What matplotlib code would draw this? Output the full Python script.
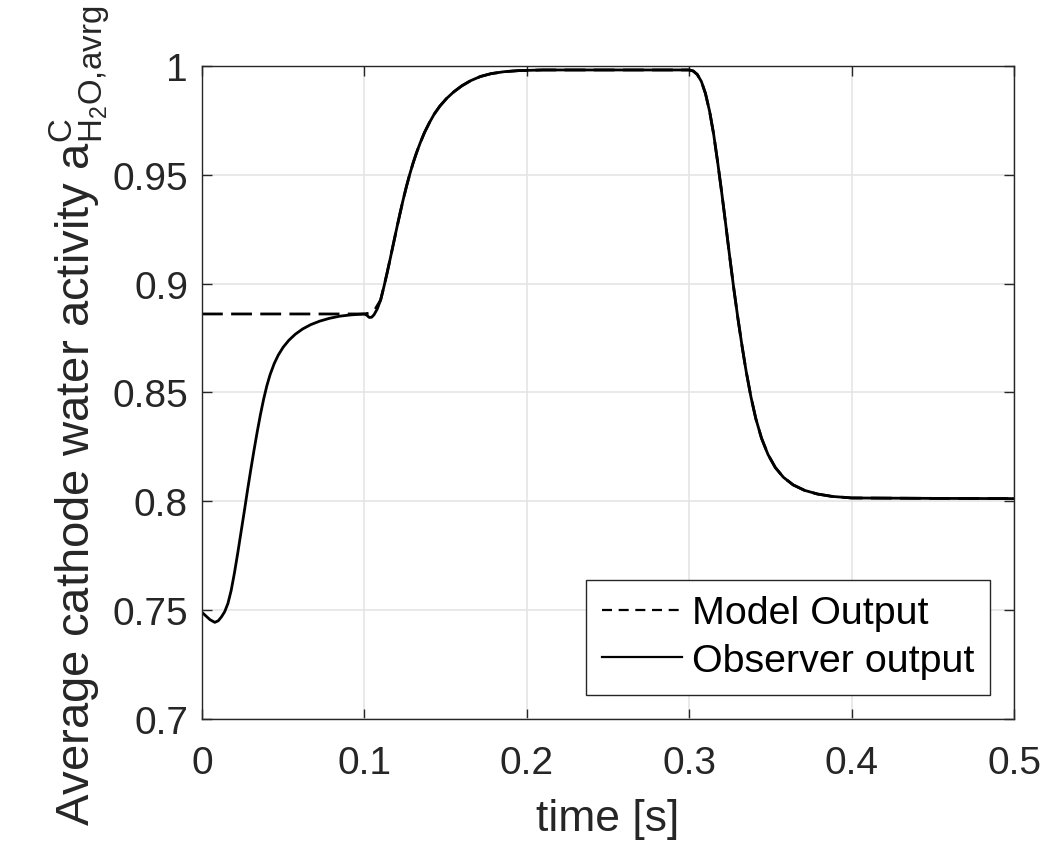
import matplotlib
matplotlib.use("Agg")
import matplotlib.pyplot as plt
from matplotlib.lines import Line2D

# observer output
obs_t = [0.0000, 0.0025, 0.0050, 0.0079, 0.0100, 0.0120, 0.0140, 0.0160, 0.0180, 0.0200,
         0.0220, 0.0240, 0.0260, 0.0280, 0.0300, 0.0320, 0.0340, 0.0360, 0.0380, 0.0400,
         0.0420, 0.0445, 0.0470, 0.0500, 0.0535, 0.0575, 0.0620, 0.0670, 0.0725, 0.0785,
         0.0850, 0.0920, 0.1000, 0.1015, 0.1030, 0.1045, 0.1060, 0.1080, 0.1100, 0.1120,
         0.1140, 0.1160, 0.1180, 0.1200, 0.1220, 0.1240, 0.1260, 0.1280, 0.1300, 0.1320,
         0.1345, 0.1370, 0.1400, 0.1430, 0.1465, 0.1505, 0.1550, 0.1600, 0.1655, 0.1715,
         0.1780, 0.1860, 0.1950, 0.2100, 0.2500, 0.3000, 0.3025, 0.3050, 0.3075, 0.3100,
         0.3125, 0.3150, 0.3175, 0.3200, 0.3225, 0.3250, 0.3275, 0.3300, 0.3325, 0.3350,
         0.3380, 0.3410, 0.3445, 0.3485, 0.3530, 0.3580, 0.3640, 0.3710, 0.3790, 0.3880,
         0.4000, 0.4500, 0.5000]
obs_a = [0.7489, 0.7472, 0.7455, 0.7443, 0.7450, 0.7468, 0.7492, 0.7530, 0.7590, 0.7670,
         0.7760, 0.7855, 0.7950, 0.8048, 0.8142, 0.8232, 0.8318, 0.8398, 0.8470, 0.8532,
         0.8583, 0.8633, 0.8672, 0.8708, 0.8740, 0.8768, 0.8792, 0.8812, 0.8828, 0.8841,
         0.8851, 0.8857, 0.8861, 0.8855, 0.8845, 0.8846, 0.8858, 0.8885, 0.8925, 0.8985,
         0.9050, 0.9118, 0.9188, 0.9258, 0.9325, 0.9390, 0.9450, 0.9505, 0.9555, 0.9600,
         0.9650, 0.9695, 0.9740, 0.9780, 0.9817, 0.9851, 0.9882, 0.9910, 0.9934, 0.9953,
         0.9966, 0.9975, 0.9980, 0.9983, 0.9983, 0.9983, 0.9978, 0.9962, 0.9930, 0.9875,
         0.9795, 0.9690, 0.9560, 0.9420, 0.9272, 0.9120, 0.8975, 0.8840, 0.8715, 0.8600,
         0.8480, 0.8380, 0.8290, 0.8215, 0.8155, 0.8110, 0.8075, 0.8050, 0.8033, 0.8022,
         0.8015, 0.8013, 0.8012]

# model output: flat before the first step, then same as observer
model_head_t = [0.0, 0.1, 0.103, 0.106]
model_head_a = [0.8861, 0.8861, 0.8865, 0.8875]

xticks = [0, 0.1, 0.2, 0.3, 0.4, 0.5]
xticklabels = ["0", "0.1", "0.2", "0.3", "0.4", "0.5"]
yticks = [0.7, 0.75, 0.8, 0.85, 0.9, 0.95, 1.0]
yticklabels = ["0.7", "0.75", "0.8", "0.85", "0.9", "0.95", "1"]

model_t = model_head_t + [t for t in obs_t if t > 0.108]
model_a = model_head_a + [a for t, a in zip(obs_t, obs_a) if t > 0.108]

plt.rcParams["font.family"] = ["Liberation Sans", "DejaVu Sans"]
plt.rcParams["mathtext.fontset"] = "custom"
plt.rcParams["mathtext.rm"] = "Liberation Sans"
plt.rcParams["mathtext.it"] = "Liberation Sans"

fig = plt.figure(figsize=(10.48, 8.45), dpi=100)
ax = fig.add_axes([0.1927, 0.1483, 0.7749, 0.7721])

ax.plot(model_t, model_a, color="black", linewidth=2.0, linestyle=(0, (7.5, 3)))
ax.plot(obs_t, obs_a, color="black", linewidth=2.0)

ax.set_xlim(0, 0.5)
ax.set_ylim(0.7, 1.0)
ax.set_xticks(xticks)
ax.set_xticklabels(xticklabels)
ax.set_yticks(yticks)
ax.set_yticklabels(yticklabels)

ax.grid(True, color="#e3e3e3", linewidth=1.1)
ax.set_axisbelow(True)
ax.tick_params(direction="in", length=7, width=1.0, colors="#262626",
               labelsize=28, top=True, right=True)
ax.tick_params(axis="x", pad=19)
ax.tick_params(axis="y", pad=10)
for spine in ax.spines.values():
    spine.set_edgecolor("#262626")
    spine.set_linewidth(1.0)

ax.set_xlabel("time [s]", fontsize=32, color="#262626", labelpad=12)
ax.set_ylabel(r"Average cathode water activity $\mathregular{a^{C}_{H_2O{,}avrg}}$",
              fontsize=34, color="#262626", labelpad=0.5)
ax.yaxis.label.set_y(0.465)

# legend handles drawn with the shorter dash used in the legend box
handles = [Line2D([], [], color="black", linewidth=1.6, linestyle=(0, (4.5, 3))),
           Line2D([], [], color="black", linewidth=1.6)]
leg = ax.legend(handles, ["Model Output", "Observer output"], loc="lower right",
                fontsize=28.4, frameon=True, fancybox=False,
                handlelength=2.05, handletextpad=0.25, borderpad=0.4,
                labelspacing=0.3, borderaxespad=0.6, framealpha=1)
leg.get_frame().set_edgecolor("#262626")
leg.get_frame().set_linewidth(1.0)

plt.savefig("out.png", dpi=100)
plt.close()
